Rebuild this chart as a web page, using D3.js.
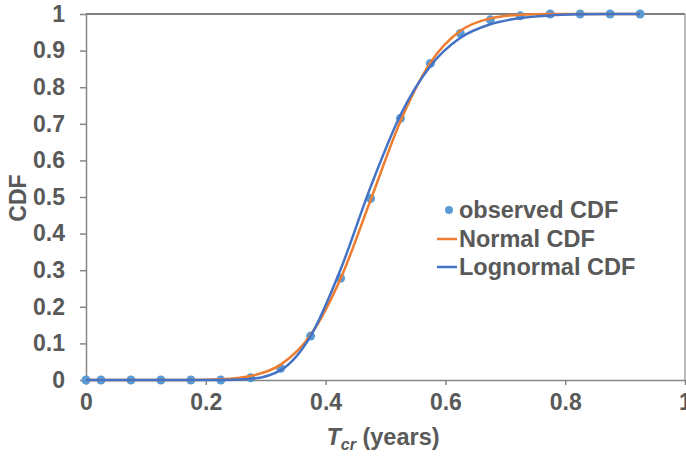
<!DOCTYPE html>
<html>
<head>
<meta charset="utf-8">
<title>CDF of Tcr</title>
<script src="https://d3js.org/d3.v7.min.js"></script>
<style>
body { margin: 0; background: #fff; }
svg { display: block; font-family: "Liberation Sans", Arial, sans-serif; }
.axis text { fill: #595959; font-size: 23px; font-weight: bold; }
.axis path, .axis line { stroke: #868686; stroke-width: 1.5; }
</style>
</head>
<body>
<script>
// x positions of the observed points (years)
var tcr = [0, 0.025, 0.075, 0.125, 0.175, 0.225, 0.275, 0.325, 0.375, 0.425,
           0.475, 0.525, 0.575, 0.625, 0.675, 0.725, 0.775, 0.825, 0.875, 0.925];
var observed = [0, 0, 0, 0, 0, 0, 0.006, 0.032, 0.12, 0.278,
                0.496, 0.715, 0.865, 0.947, 0.984, 0.995, 1, 1, 1, 1];
var normalCdf = [0, 0, 0, 0, 0, 0.002, 0.011, 0.042, 0.123, 0.277,
                 0.491, 0.707, 0.867, 0.954, 0.988, 0.998, 1, 1, 1, 1];
var lognormalCdf = [0, 0, 0, 0, 0, 0, 0.003, 0.027, 0.12, 0.302,
                    0.527, 0.724, 0.858, 0.935, 0.972, 0.989, 0.996, 0.999, 1, 1];
var xTicks = [0, 0.2, 0.4, 0.6, 0.8, 1];
var yTicks = [0, 0.1, 0.2, 0.3, 0.4, 0.5, 0.6, 0.7, 0.8, 0.9, 1];
var legendLabels = ["observed CDF", "Normal CDF", "Lognormal CDF"];

var width = 686, height = 459;
var svg = d3.select("body").append("svg")
  .attr("width", width)
  .attr("height", height);

var x = d3.scaleLinear().domain([0, 1]).range([86, 685]);
var y = d3.scaleLinear().domain([0, 1]).range([380, 14]);

// plot border (top + right)
svg.append("line")
  .attr("x1", x(0)).attr("x2", x(1)).attr("y1", y(1)).attr("y2", y(1))
  .attr("stroke", "#7f7f7f").attr("stroke-width", 2);
svg.append("line")
  .attr("x1", x(1)).attr("x2", x(1)).attr("y1", y(1)).attr("y2", y(0))
  .attr("stroke", "#a6a6a6").attr("stroke-width", 1.5);

var fmt = function(d) { return d3.format("~g")(d); };

svg.append("g")
  .attr("class", "axis")
  .attr("transform", "translate(0," + y(0) + ")")
  .call(d3.axisBottom(x).tickValues(xTicks).tickFormat(fmt).tickSize(5).tickPadding(9).tickSizeOuter(0));

svg.append("g")
  .attr("class", "axis")
  .attr("transform", "translate(" + x(0) + ",0)")
  .call(d3.axisLeft(y).tickValues(yTicks).tickFormat(fmt).tickSize(6).tickPadding(15).tickSizeOuter(0));

// observed points
svg.append("g").selectAll("circle")
  .data(tcr)
  .enter()
  .append("circle")
  .attr("cx", function(d) { return x(d); })
  .attr("cy", function(d, i) { return y(observed[i]); })
  .attr("r", 4.5)
  .attr("fill", "#5b9bd5");

var line = d3.line()
  .x(function(d) { return x(d[0]); })
  .y(function(d) { return y(d[1]); })
  .curve(d3.curveMonotoneX);

svg.append("path")
  .attr("d", line(d3.zip(tcr, normalCdf)))
  .attr("fill", "none")
  .attr("stroke", "#ed7d31")
  .attr("stroke-width", 2.5);

svg.append("path")
  .attr("d", line(d3.zip(tcr, lognormalCdf)))
  .attr("fill", "none")
  .attr("stroke", "#4472c4")
  .attr("stroke-width", 2.5);

// axis titles
svg.append("text")
  .attr("transform", "translate(26,198) rotate(-90)")
  .attr("text-anchor", "middle")
  .attr("fill", "#595959")
  .style("font-size", "23px").style("font-weight", "bold")
  .text("CDF");

var xt = svg.append("text")
  .attr("x", 383).attr("y", 445)
  .attr("text-anchor", "middle")
  .attr("fill", "#595959")
  .style("font-size", "23.5px").style("font-weight", "bold");
xt.append("tspan").style("font-style", "italic").text("T");
xt.append("tspan").style("font-style", "italic").style("font-size", "16px").attr("dy", 5).text("cr");
xt.append("tspan").attr("dy", -5).text(" (years)");

// legend
var leg = svg.append("g");
var rowY = [210, 239, 267];
leg.append("circle").attr("cx", 449).attr("cy", rowY[0]).attr("r", 4).attr("fill", "#5b9bd5");
leg.append("line").attr("x1", 437).attr("x2", 457).attr("y1", rowY[1]).attr("y2", rowY[1])
  .attr("stroke", "#ed7d31").attr("stroke-width", 2.5);
leg.append("line").attr("x1", 437).attr("x2", 457).attr("y1", rowY[2]).attr("y2", rowY[2])
  .attr("stroke", "#4472c4").attr("stroke-width", 2.5);
leg.selectAll("text")
  .data(legendLabels)
  .enter()
  .append("text")
  .attr("x", 459)
  .attr("y", function(d, i) { return rowY[i]; })
  .attr("dy", "0.36em")
  .attr("fill", "#595959")
  .style("font-size", "23.5px").style("font-weight", "bold")
  .text(function(d) { return d; });
</script>
</body>
</html>
